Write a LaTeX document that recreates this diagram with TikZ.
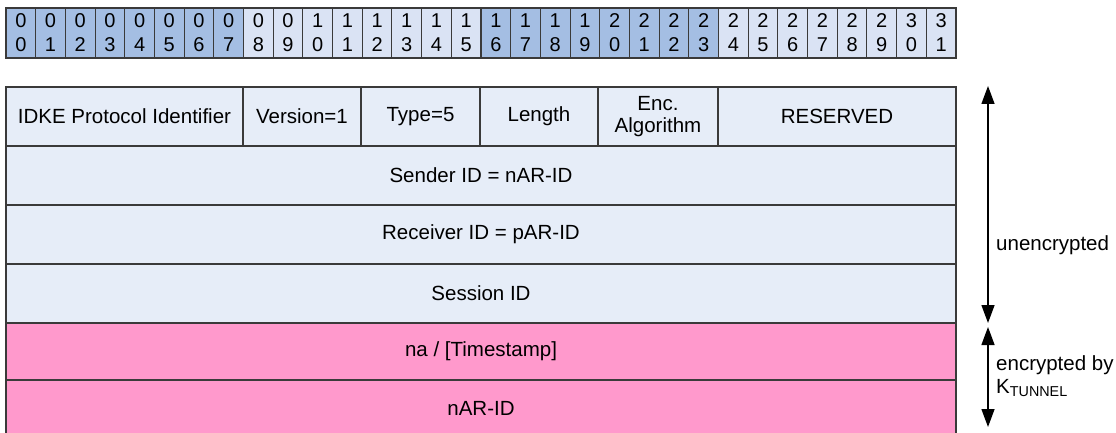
\documentclass[tikz,border=0pt]{standalone}
\usepackage{fontspec}
\setmainfont{Liberation Sans}
\usepackage{xcolor}
\usetikzlibrary{arrows.meta,positioning}
\definecolor{bitdark}{HTML}{A4BEE3}
\definecolor{bitlight}{HTML}{DAE3F4}
\definecolor{plainfill}{HTML}{E6EDF8}
\definecolor{encfill}{HTML}{FF99CC}
\definecolor{edgecol}{HTML}{3A3A3A}

\begin{document}
\begin{tikzpicture}[x=1pt, y=-1pt,
    bitcell/.style={draw=edgecol, line width=1.1pt, rectangle, minimum width=29.6875pt, minimum height=50pt, inner sep=0pt, outer sep=0pt, align=center, font=\fontsize{20}{24}\selectfont},
    field/.style={draw=edgecol, fill=plainfill, line width=1.1pt, rectangle, minimum height=59pt, inner sep=0pt, outer sep=0pt, align=center, font=\fontsize{20.5}{22}\selectfont},
    encfield/.style={field, fill=encfill},
    bothway/.style={{Triangle[length=18pt, width=13pt]}-{Triangle[length=18pt, width=13pt]}, line width=1.4pt},
    sidelabel/.style={anchor=west, align=left, inner sep=0pt, font=\fontsize{20.5}{23}\selectfont}
]
\useasboundingbox (0,0) rectangle (1116,433);

% Bit numbers
\foreach \i in {0,...,31} {
    \pgfmathtruncatemacro\tens{\i/10}
    \pgfmathtruncatemacro\ones{mod(\i,10)}
    \pgfmathtruncatemacro\grp{mod(floor(\i/8),2)}
    \ifnum\grp=0 \def\cellcol{bitdark}\else\def\cellcol{bitlight}\fi
    \node[bitcell, fill=\cellcol, anchor=north west] (b\i) at ({6+29.6875*\i},8) {\tens\\\ones};
}

% First row
\node[field, minimum width=237pt, anchor=north west] (idke) at (6,87) {IDKE Protocol Identifier};
\node[field, minimum width=118pt, right=0pt of idke] (ver) {Version=1};
\node[field, minimum width=119pt, right=0pt of ver] (type) {Type=5};
\node[field, minimum width=118pt, right=0pt of type] (len) {Length};
\node[field, minimum width=120pt, right=0pt of len] (alg) {Enc.\\Algorithm};
\node[field, minimum width=238pt, right=0pt of alg] (res) {RESERVED};

% Unencrypted part
\node[field, minimum width=950pt, anchor=north west] (sender) at (idke.south west) {Sender ID = nAR-ID};
\node[field, minimum width=950pt, below=0pt of sender] (receiver) {Receiver ID = pAR-ID};
\node[field, minimum width=950pt, below=0pt of receiver] (session) {Session ID};

% Encrypted part
\node[encfield, minimum width=950pt, minimum height=57pt, below=0pt of session] (nonce) {na / [Timestamp]};
\node[encfield, minimum width=950pt, minimum height=57pt, below=0pt of nonce] (nar) {nAR-ID};

% Ranges
\coordinate (plaintop) at (988,86);
\coordinate (plainbot) at (988,323);
\coordinate (enctop) at (988,327);
\coordinate (encbot) at (988,427);
\draw[bothway] (plaintop) -- (plainbot);
\draw[bothway] (enctop) -- (encbot);
\node[sidelabel] (plainlbl) at (996,245) {unencrypted};
\node[sidelabel] (enclbl) at (996,376) {encrypted by\\K\textsubscript{TUNNEL}};

\end{tikzpicture}
\end{document}
